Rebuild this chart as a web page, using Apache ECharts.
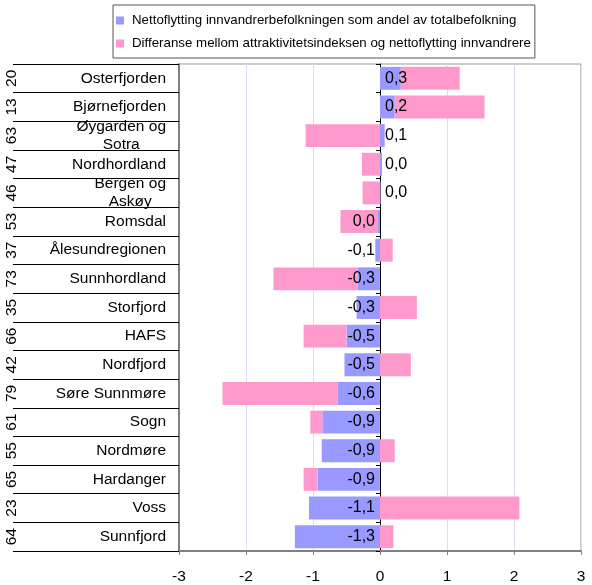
<!DOCTYPE html>
<html>
<head>
<meta charset="utf-8">
<script src="https://cdn.jsdelivr.net/npm/echarts@6/dist/echarts.min.js"></script>
<style>
  html, body { margin: 0; padding: 0; background: #fff; }
  #chart { width: 592px; height: 585px; }
</style>
</head>
<body>
<div id="chart"></div>
<script>
// regioner (ovenfra og ned)
const regionNames = ['Osterfjorden', 'Bjørnefjorden', 'Øygarden og\nSotra', 'Nordhordland', 'Bergen og\nAskøy',
  'Romsdal', 'Ålesundregionen', 'Sunnhordland', 'Storfjord', 'HAFS', 'Nordfjord', 'Søre Sunnmøre',
  'Sogn', 'Nordmøre', 'Hardanger', 'Voss', 'Sunnfjord']
const regionNumbers = ['20', '13', '63', '47', '46', '53', '37', '73', '35', '66', '42', '79', '61', '55', '65', '23', '64']

// nettoflytting innvandrere som andel av totalbefolkning
const nettoflytting = [0.31, 0.22, 0.07, 0.03, 0.01, -0.03, -0.07, -0.33, -0.35, -0.5, -0.53, -0.63, -0.86, -0.87, -0.93, -1.06, -1.27]
// differanse mellom attraktivitetsindeks og nettoflytting
const differanse = [0.88, 1.34, -1.11, -0.27, -0.26, -0.56, 0.19, -1.26, 0.55, -0.64, 0.46, -1.72, -0.18, 0.22, -0.21, 2.08, 0.2]

const xTicks = [-3, -2, -1, 0, 1, 2, 3]

const seriesNames = [
  'Nettoflytting innvandrerbefolkningen som andel av totalbefolkning',
  'Differanse mellom attraktivitetsindeksen og nettoflytting innvandrere'
]

const font = 'Liberation Sans, Arial, sans-serif'

const fmt = (v) => Math.abs(v) < 0.05 ? '0,0' : v.toFixed(1).replace('.', ',')

const chart = echarts.init(document.getElementById('chart'), null, { renderer: 'canvas' })

chart.setOption({
  backgroundColor: '#fff',
  animation: false,
  textStyle: { fontFamily: font },
  legend: {
    orient: 'vertical',
    left: 113,
    top: 5,
    padding: [9, 4, 8, 3],
    itemWidth: 8,
    itemHeight: 8,
    itemGap: 10,
    icon: 'rect',
    borderColor: '#555',
    borderWidth: 1,
    textStyle: { fontSize: 13.3, color: '#000', fontFamily: font, padding: [0, 0, 0, 3] },
    data: seriesNames
  },
  grid: {
    left: 179,
    right: 11,
    top: 64,
    bottom: 34,
    outerBoundsMode: 'none',
    containLabel: false,
    show: true,
    borderColor: '#999',
    borderWidth: 1
  },
  xAxis: {
    type: 'value',
    min: xTicks[0],
    max: xTicks[xTicks.length - 1],
    interval: 1,
    axisLine: { show: true, lineStyle: { color: '#808080', width: 2 } },
    axisTick: { show: true, length: 4, lineStyle: { color: '#808080' } },
    axisLabel: { fontSize: 15.5, color: '#000', margin: 18, fontFamily: font },
    splitLine: { show: true, lineStyle: { color: '#dcdcf6', width: 1 } }
  },
  yAxis: [
    {
      type: 'category',
      position: 'left',
      inverse: true,
      data: regionNames,
      axisLine: { show: true, onZero: false, lineStyle: { color: '#808080', width: 2 } },
      axisTick: { show: true, length: 166, lineStyle: { color: '#000', width: 1 } },
      axisLabel: {
        fontSize: 15.5,
        color: '#000',
        margin: 13,
        fontFamily: font,
        formatter: (v) => v.includes('\n') ? v.split('\n').map(s => '{c|' + s + '}').join('\n') : v,
        rich: { c: { align: 'center', fontSize: 15.5, lineHeight: 18, color: '#000', fontFamily: font } }
      }
    },
    {
      type: 'category',
      position: 'left',
      inverse: true,
      data: regionNames,
      axisLine: { show: true, onZero: true, lineStyle: { color: '#000', width: 1 } },
      axisTick: { show: true, length: 4, lineStyle: { color: '#000' } },
      axisLabel: { show: false }
    },
    {
      type: 'category',
      position: 'left',
      inverse: true,
      data: regionNumbers,
      offset: 157,
      axisLine: { show: false, onZero: false },
      axisTick: { show: false },
      axisLabel: { fontSize: 15.5, color: '#000', rotate: 90, margin: 2, fontFamily: font }
    }
  ],
  series: [
    {
      name: seriesNames[0],
      type: 'bar',
      stack: 'a',
      barCategoryGap: '20%',
      itemStyle: { color: '#9999ff' },
      label: {
        show: true,
        fontSize: 16,
        color: '#000',
        fontFamily: font,
        formatter: (p) => fmt(p.value)
      },
      data: nettoflytting.map(v => ({ value: v, label: { position: v < 0 ? 'insideRight' : 'insideLeft' } })),
      z: 2
    },
    {
      name: seriesNames[1],
      type: 'bar',
      stack: 'a',
      barCategoryGap: '20%',
      itemStyle: { color: '#ff99cc' },
      data: differanse,
      z: 2
    }
  ]
})
</script>
</body>
</html>
